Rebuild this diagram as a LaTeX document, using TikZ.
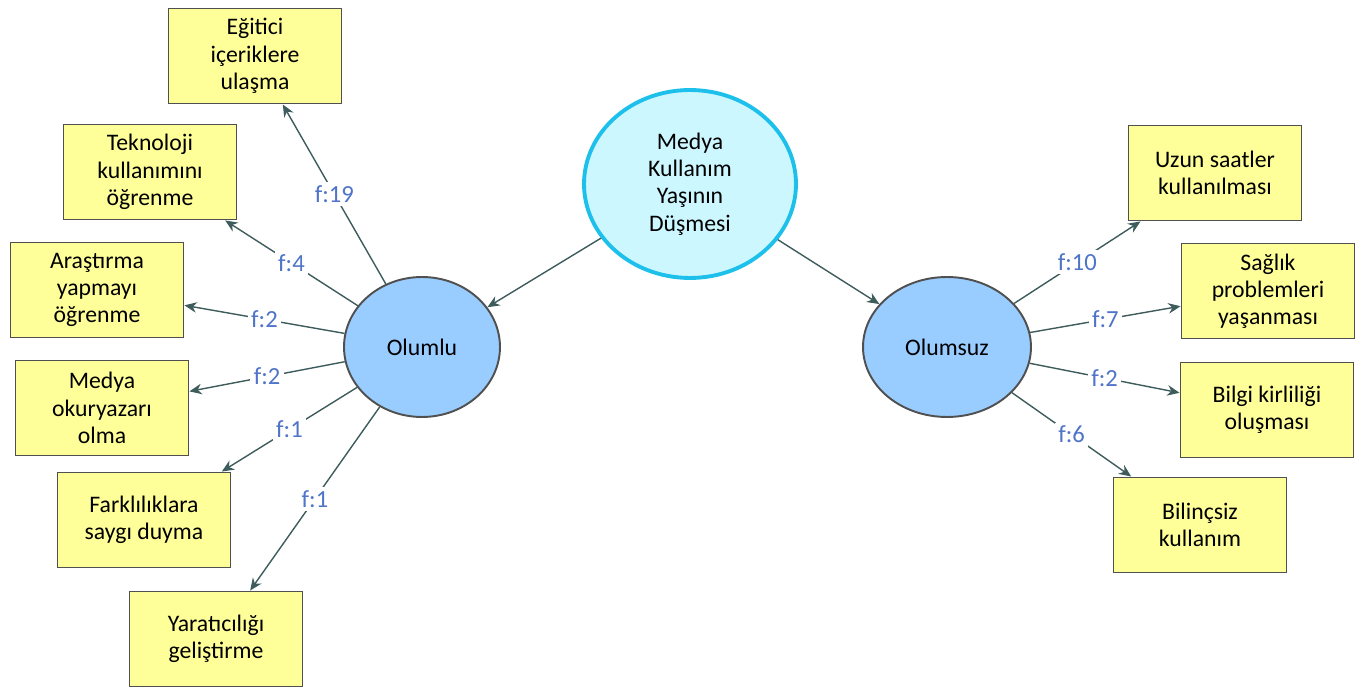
\documentclass[tikz,border=0pt]{standalone}
\usepackage{fontspec}
\setmainfont{Carlito}
\usepackage{tikz}
\usetikzlibrary{shapes.geometric, arrows.meta}

\definecolor{boxyellow}{HTML}{FFFF99}
\definecolor{boxline}{HTML}{505050}
\definecolor{midcyan}{HTML}{CCF7FF}
\definecolor{midline}{HTML}{1CC0EA}
\definecolor{sideblue}{HTML}{99CCFF}
\definecolor{arrowgray}{HTML}{3E5C5C}
\definecolor{flabel}{HTML}{4F74C8}

\tikzset{
    item/.style={draw=boxline, line width=1.1pt, fill=boxyellow, align=center,
        minimum width=3.46cm, minimum height=1.9cm, inner sep=2pt,
        font=\fontsize{13.5}{15.5}\selectfont, text=black},
    link/.style={draw=arrowgray, line width=0.8pt, -{Stealth[length=7pt,width=6pt]}},
    freq/.style={midway, fill=white, inner sep=2pt, text=flabel,
        font=\fontsize{14}{16}\selectfont}
}

\begin{document}
\begin{tikzpicture}[x=0.02cm, y=-0.02cm]
    \useasboundingbox (0,0) rectangle (1367,688);

    % Central topic
    \node[ellipse, draw=midline, line width=2.2pt, fill=midcyan, align=center,
        minimum width=4.24cm, minimum height=3.76cm, inner sep=0pt,
        font=\fontsize{13.5}{15.5}\selectfont, text=black] (medya) at (690,184)
        {Medya\\Kullanım\\Yaşının\\Düşmesi};

    % Two sides
    \node[ellipse, draw=boxline, line width=1.1pt, fill=sideblue,
        minimum width=3.12cm, minimum height=2.8cm, inner sep=0pt,
        font=\fontsize{13.5}{15.5}\selectfont, text=black] (olumlu) at (422,347) {Olumlu};
    \node[ellipse, draw=boxline, line width=1.1pt, fill=sideblue,
        minimum width=3.36cm, minimum height=2.8cm, inner sep=0pt,
        font=\fontsize{13.5}{15.5}\selectfont, text=black] (olumsuz) at (947,347) {Olumsuz};

    \draw[link] (medya) -- (olumlu);
    \draw[link] (medya) -- (olumsuz);

    % Positive outcomes
    \node[item] (egitici) at (255,56) {Eğitici\\içeriklere\\ulaşma};
    \node[item] (teknoloji) at (150,172) {Teknoloji\\kullanımını\\öğrenme};
    \node[item] (arastirma) at (97,290) {Araştırma\\yapmayı\\öğrenme};
    \node[item] (okuryazar) at (102,408) {Medya\\okuryazarı\\olma};
    \node[item] (saygi) at (144,520) {Farklılıklara\\saygı duyma};
    \node[item] (yaratici) at (216,639) {Yaratıcılığı\\geliştirme};

    \draw[link] (olumlu) -- (egitici) node[freq] {f:19};
    \draw[link] (olumlu) -- (teknoloji) node[freq] {f:4};
    \draw[link] (olumlu) -- (arastirma) node[freq] {f:2};
    \draw[link] (olumlu) -- (okuryazar) node[freq] {f:2};
    \draw[link] (olumlu) -- (saygi) node[freq] {f:1};
    \draw[link] (olumlu) -- (yaratici) node[freq] {f:1};

    % Negative outcomes
    \node[item] (uzun) at (1215,173) {Uzun saatler\\kullanılması};
    \node[item] (saglik) at (1268,291) {Sağlık\\problemleri\\yaşanması};
    \node[item] (bilgi) at (1267,410) {Bilgi kirliliği\\oluşması};
    \node[item] (bilincsiz) at (1200,525) {Bilinçsiz\\kullanım};

    \draw[link] (olumsuz) -- (uzun) node[freq] {f:10};
    \draw[link] (olumsuz) -- (saglik) node[freq] {f:7};
    \draw[link] (olumsuz) -- (bilgi) node[freq] {f:2};
    \draw[link] (olumsuz) -- (bilincsiz) node[freq] {f:6};
\end{tikzpicture}
\end{document}
